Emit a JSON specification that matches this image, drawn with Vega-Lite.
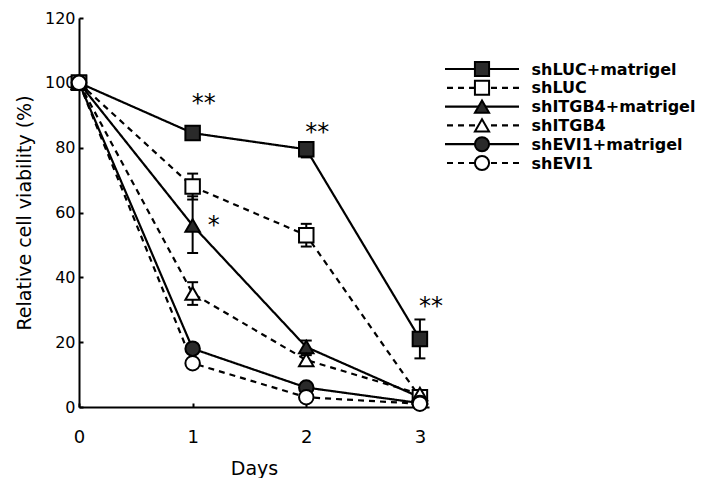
{
  "$schema": "https://vega.github.io/schema/vega-lite/v6.json",
  "background": "white",
  "padding": {"left": 15, "top": 10, "right": 0, "bottom": 0},
  "spacing": 0,
  "config": {
    "view": {"stroke": null},
    "font": "DejaVu Sans",
    "axis": {"domainColor": "black", "tickColor": "black", "labelColor": "black", "titleColor": "black", "grid": false}
  },
  "datasets": {
    "main": [
      {"series": "shLUC+matrigel", "day": 0, "value": 100},
      {"series": "shLUC+matrigel", "day": 1, "value": 84.5, "lo": 83, "hi": 86},
      {"series": "shLUC+matrigel", "day": 2, "value": 79.5, "lo": 77, "hi": 81},
      {"series": "shLUC+matrigel", "day": 3, "value": 21, "lo": 15, "hi": 27},
      {"series": "shLUC", "day": 0, "value": 100},
      {"series": "shLUC", "day": 1, "value": 68, "lo": 64, "hi": 72},
      {"series": "shLUC", "day": 2, "value": 53, "lo": 49.5, "hi": 56.5},
      {"series": "shLUC", "day": 3, "value": 3},
      {"series": "shITGB4+matrigel", "day": 0, "value": 100},
      {"series": "shITGB4+matrigel", "day": 1, "value": 56, "lo": 47.5, "hi": 65},
      {"series": "shITGB4+matrigel", "day": 2, "value": 18.5, "lo": 16.5, "hi": 20.5},
      {"series": "shITGB4+matrigel", "day": 3, "value": 3},
      {"series": "shITGB4", "day": 0, "value": 100},
      {"series": "shITGB4", "day": 1, "value": 35, "lo": 31.5, "hi": 38.5},
      {"series": "shITGB4", "day": 2, "value": 14.5, "lo": 13, "hi": 16},
      {"series": "shITGB4", "day": 3, "value": 4},
      {"series": "shEVI1+matrigel", "day": 0, "value": 100},
      {"series": "shEVI1+matrigel", "day": 1, "value": 18},
      {"series": "shEVI1+matrigel", "day": 2, "value": 6},
      {"series": "shEVI1+matrigel", "day": 3, "value": 1.2},
      {"series": "shEVI1", "day": 0, "value": 100},
      {"series": "shEVI1", "day": 1, "value": 13.5},
      {"series": "shEVI1", "day": 2, "value": 3},
      {"series": "shEVI1", "day": 3, "value": 1}
    ],
    "stars": [
      {"day": 1, "value": 95, "label": "**"},
      {"day": 2, "value": 86, "label": "**"},
      {"day": 3, "value": 32.5, "label": "**"},
      {"day": 1, "value": 57.5, "label": "*"}
    ],
    "series": [
      {"series": "shLUC+matrigel"},
      {"series": "shLUC"},
      {"series": "shITGB4+matrigel"},
      {"series": "shITGB4"},
      {"series": "shEVI1+matrigel"},
      {"series": "shEVI1"}
    ]
  },
  "hconcat": [
    {
      "width": 350,
      "height": 389,
      "data": {"name": "main"},
      "encoding": {
        "x": {"field": "day", "type": "quantitative", "scale": {"domain": [0, 3.08], "nice": false},
          "axis": {"values": [0, 1, 2, 3], "title": "Days", "domainWidth": 2, "tickSize": -4, "tickWidth": 2, "labelPadding": 25, "labelFontSize": 18, "labelFlush": false, "titleFontSize": 19, "titleFontWeight": "normal", "titlePadding": 13}},
        "y": {"field": "value", "type": "quantitative", "scale": {"domain": [0, 120], "nice": false},
          "axis": {"values": [0, 20, 40, 60, 80, 100, 120], "title": "Relative cell viability (%)", "domainWidth": 2, "tickSize": -4, "tickWidth": 2, "labelPadding": 8, "labelFontSize": 16, "titleFontSize": 19, "titleFontWeight": "normal", "titlePadding": 10}}
      },
      "layer": [
        {
          "mark": {"type": "line", "color": "black", "strokeWidth": 2.2},
          "encoding": {
            "detail": {"field": "series"},
            "strokeDash": {"field": "series", "type": "nominal", "legend": null,
              "scale": {"domain": ["shLUC+matrigel", "shLUC", "shITGB4+matrigel", "shITGB4", "shEVI1+matrigel", "shEVI1"],
                "range": [[1, 0], [6, 5], [1, 0], [6, 5], [1, 0], [6, 5]]}}
          }
        },
        {
          "transform": [{"filter": "isValid(datum.lo)"}],
          "mark": {"type": "rule", "color": "black", "strokeWidth": 2},
          "encoding": {"y": {"field": "lo", "type": "quantitative"}, "y2": {"field": "hi"}}
        },
        {
          "transform": [{"filter": "isValid(datum.lo)"}],
          "mark": {"type": "point", "shape": "M-1,0H1", "size": 120, "stroke": "black", "strokeWidth": 2, "opacity": 1},
          "encoding": {"y": {"field": "lo", "type": "quantitative"}}
        },
        {
          "transform": [{"filter": "isValid(datum.hi)"}],
          "mark": {"type": "point", "shape": "M-1,0H1", "size": 120, "stroke": "black", "strokeWidth": 2, "opacity": 1},
          "encoding": {"y": {"field": "hi", "type": "quantitative"}}
        },
        {
          "mark": {"type": "point", "filled": true, "stroke": "black", "strokeWidth": 2, "opacity": 1, "size": 210},
          "encoding": {
            "shape": {"field": "series", "type": "nominal", "legend": null,
              "scale": {"domain": ["shLUC+matrigel", "shLUC", "shITGB4+matrigel", "shITGB4", "shEVI1+matrigel", "shEVI1"],
                "range": ["square", "square", "triangle-up", "triangle-up", "circle", "circle"]}},
            "fill": {"field": "series", "type": "nominal", "legend": null,
              "scale": {"domain": ["shLUC+matrigel", "shLUC", "shITGB4+matrigel", "shITGB4", "shEVI1+matrigel", "shEVI1"],
                "range": ["#2a2a2a", "white", "#2a2a2a", "white", "#2a2a2a", "white"]}}
          }
        },
        {
          "data": {"name": "stars"},
          "transform": [{"filter": "datum.label == '**'"}],
          "mark": {"type": "text", "fontSize": 24, "dx": 11, "dy": 5, "color": "black"},
          "encoding": {"text": {"field": "label"}}
        },
        {
          "data": {"name": "stars"},
          "transform": [{"filter": "datum.label == '*'"}],
          "mark": {"type": "text", "fontSize": 24, "dx": 21, "dy": 5, "color": "black"},
          "encoding": {"text": {"field": "label"}}
        }
      ]
    },
    {
      "width": 74,
      "height": 389,
      "data": {"name": "series"},
      "encoding": {
        "y": {"field": "series", "type": "nominal",
          "scale": {"type": "point", "padding": 0, "domain": ["shLUC+matrigel", "shLUC", "shITGB4+matrigel", "shITGB4", "shEVI1+matrigel", "shEVI1"], "range": [51, 145]},
          "axis": {"orient": "right", "title": null, "domain": false, "ticks": false, "labelPadding": 12, "labelFontSize": 16, "labelFontWeight": "bold", "labelFont": "DejaVu Sans"}}
      },
      "layer": [
        {
          "mark": {"type": "rule", "color": "black", "strokeWidth": 2.2},
          "encoding": {
            "strokeDash": {"field": "series", "type": "nominal", "legend": null,
              "scale": {"domain": ["shLUC+matrigel", "shLUC", "shITGB4+matrigel", "shITGB4", "shEVI1+matrigel", "shEVI1"],
                "range": [[1, 0], [6, 5], [1, 0], [6, 5], [1, 0], [6, 5]]}}
          }
        },
        {
          "mark": {"type": "point", "filled": true, "stroke": "black", "strokeWidth": 2, "opacity": 1, "size": 200},
          "encoding": {
            "shape": {"field": "series", "type": "nominal", "legend": null,
              "scale": {"domain": ["shLUC+matrigel", "shLUC", "shITGB4+matrigel", "shITGB4", "shEVI1+matrigel", "shEVI1"],
                "range": ["square", "square", "triangle-up", "triangle-up", "circle", "circle"]}},
            "fill": {"field": "series", "type": "nominal", "legend": null,
              "scale": {"domain": ["shLUC+matrigel", "shLUC", "shITGB4+matrigel", "shITGB4", "shEVI1+matrigel", "shEVI1"],
                "range": ["#2a2a2a", "white", "#2a2a2a", "white", "#2a2a2a", "white"]}}
          }
        }
      ]
    }
  ]
}
